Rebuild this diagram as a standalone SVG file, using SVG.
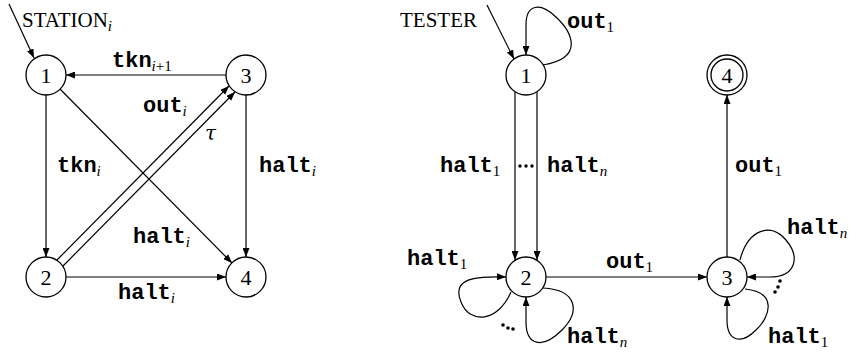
<svg xmlns="http://www.w3.org/2000/svg" width="858" height="353" viewBox="0 0 858 353">
<style>
.n{fill:#fff;stroke:#000;stroke-width:1.3}
.e{fill:none;stroke:#000;stroke-width:1.2}
.a{marker-end:url(#ah)}
.num{font-family:"Liberation Serif",serif;font-size:22px;text-anchor:middle}
.tt{font-family:"Liberation Mono",monospace;font-weight:bold;font-size:22px;fill:#000}
.sub{font-family:"Liberation Serif",serif;font-weight:normal;font-size:15px;fill:#000}
.it{font-style:italic}
.title{font-family:"Liberation Serif",serif;font-size:21px}
.tau{font-family:"DejaVu Serif",serif;font-style:italic;font-size:20px}
</style>
<defs>
<marker id="ah" markerUnits="userSpaceOnUse" markerWidth="10" markerHeight="7" refX="9" refY="3.5" orient="auto">
<path d="M0,0 L9,3.5 L0,7 z" fill="#000"/>
</marker>
</defs>
<g id="connectors">
<line class="e a" x1="9" y1="4" x2="34" y2="58"/>
<line class="e a" x1="226" y1="75" x2="66" y2="75"/>
<line class="e a" x1="46" y1="95" x2="46" y2="257"/>
<line class="e a" x1="246" y1="95" x2="246" y2="257"/>
<line class="e a" x1="60" y1="89" x2="232" y2="263"/>
<line class="e a" x1="57" y1="260" x2="229" y2="86"/>
<line class="e a" x1="63" y1="266" x2="235" y2="92"/>
<line class="e a" x1="66" y1="277" x2="226" y2="277"/>
<line class="e a" x1="487" y1="5" x2="514" y2="59"/>
<path class="e a" d="M543,65 C585,58 572,32 556,17 C540,2 526,4 526,25 L526,55"/>
<line class="e a" x1="515" y1="92" x2="515" y2="260"/>
<line class="e a" x1="537" y1="92" x2="537" y2="260"/>
<line class="e a" x1="546" y1="277" x2="707" y2="277"/>
<line class="e a" x1="727" y1="257" x2="727" y2="95"/>
<path class="e a" d="M511,292 C498,322 470,325 461,302 C452,280 470,276 506,277"/>
<path class="e a" d="M543,288 C578,290 580,312 562,330 C542,350 526,345 526,322 L526,297"/>
<path class="e a" d="M740,260 C748,229 771,222 786,240 C801,258 795,277 770,277 L747,277"/>
<path class="e a" d="M745,289 C777,292 771,316 756,330 C740,346 727,340 727,320 L727,297"/>
</g>
<g id="dots" fill="#000">
<circle cx="520" cy="166" r="1.7"/><circle cx="526" cy="166" r="1.7"/><circle cx="532" cy="166" r="1.7"/>
<circle cx="503" cy="325" r="1.8"/><circle cx="508" cy="328" r="1.8"/><circle cx="513" cy="329" r="1.8"/>
<circle cx="780" cy="281" r="1.8"/><circle cx="778" cy="287" r="1.8"/><circle cx="775" cy="292" r="1.8"/>
</g>
<g id="s1"><circle class="n" cx="46" cy="75" r="20"/><text class="num" x="46" y="83">1</text></g>
<g id="s2"><circle class="n" cx="46" cy="277" r="20"/><text class="num" x="46" y="285">2</text></g>
<g id="s3"><circle class="n" cx="246" cy="75" r="20"/><text class="num" x="246" y="83">3</text></g>
<g id="s4"><circle class="n" cx="246" cy="277" r="20"/><text class="num" x="246" y="285">4</text></g>
<g id="t1"><circle class="n" cx="526" cy="75" r="20"/><text class="num" x="526" y="83">1</text></g>
<g id="t2"><circle class="n" cx="526" cy="277" r="20"/><text class="num" x="526" y="285">2</text></g>
<g id="t3"><circle class="n" cx="727" cy="277" r="20"/><text class="num" x="727" y="285">3</text></g>
<g id="t4"><circle class="n" cx="727" cy="75" r="20"/><circle class="n" cx="727" cy="75" r="16"/><text class="num" x="727" y="83">4</text></g>
<g id="labels">
<text class="title" x="22" y="27">STATION<tspan class="it" font-size="15" dy="4">i</tspan></text>
<text class="title" x="400" y="27">TESTER</text>
<text class="tt" x="112" y="67">tkn<tspan class="sub it" dy="4">i</tspan><tspan class="sub">+1</tspan></text>
<text class="tt" x="143" y="112">out<tspan class="sub it" dy="4">i</tspan></text>
<text class="tau" x="205" y="140">τ</text>
<text class="tt" x="57" y="172">tkn<tspan class="sub it" dy="4">i</tspan></text>
<text class="tt" x="259" y="172">halt<tspan class="sub it" dy="4">i</tspan></text>
<text class="tt" x="133" y="243">halt<tspan class="sub it" dy="4">i</tspan></text>
<text class="tt" x="118" y="299">halt<tspan class="sub it" dy="4">i</tspan></text>
<text class="tt" x="567" y="28">out<tspan class="sub" dy="4">1</tspan></text>
<text class="tt" x="440" y="172">halt<tspan class="sub" dy="4">1</tspan></text>
<text class="tt" x="547" y="172">halt<tspan class="sub it" dy="4">n</tspan></text>
<text class="tt" x="735" y="172">out<tspan class="sub" dy="4">1</tspan></text>
<text class="tt" x="606" y="268">out<tspan class="sub" dy="4">1</tspan></text>
<text class="tt" x="407" y="265">halt<tspan class="sub" dy="4">1</tspan></text>
<text class="tt" x="567" y="343">halt<tspan class="sub it" dy="4">n</tspan></text>
<text class="tt" x="787" y="234">halt<tspan class="sub it" dy="4">n</tspan></text>
<text class="tt" x="768" y="343">halt<tspan class="sub" dy="4">1</tspan></text>
</g>
</svg>
